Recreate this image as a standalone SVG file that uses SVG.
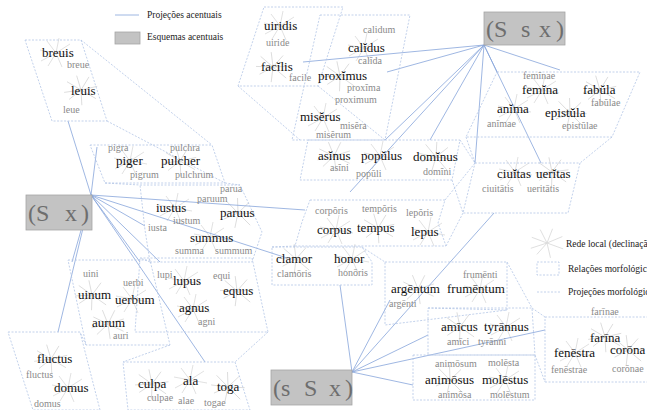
<svg xmlns="http://www.w3.org/2000/svg" xmlns:xlink="http://www.w3.org/1999/xlink" width="647" height="410" viewBox="0 0 647 410">
<style>
.b{font-family:"Liberation Serif",serif;font-size:13px;fill:#111}
.g{font-family:"Liberation Serif",serif;font-size:10px;fill:#8a8a8a}
.box{fill:none;stroke:#b3c5e6;stroke-width:.8;stroke-dasharray:2 1.5}
.rel{fill:none;stroke:#b3c5e6;stroke-width:.8;stroke-dasharray:2 1.5}
.proj{fill:none;stroke:#86a5da;stroke-width:.8}
.gbox{fill:#c3c3c3;stroke:#a5a5a5;stroke-width:.8}
.gt{font-family:"Liberation Serif",serif;font-size:24px;fill:#6e6e6e}
.leg{font-family:"Liberation Serif",serif;font-size:9.5px;fill:#222}
.st{stroke:#d9d9d9;stroke-width:.8;fill:none}
</style>
<defs>
<g id="star" class="st">
<path d="M0 0L-16 -3M0 0L-9 -12M0 0L3 -15M0 0L14 -9M0 0L17 3M0 0L6 14M0 0L-8 13M0 0L-15 8"/>
</g>
</defs>
<rect width="647" height="410" fill="#fff"/>

<g id="stars">
<use xlink:href="#star" x="56" y="53"/><use xlink:href="#star" x="81" y="90" transform="rotate(20 81 90)"/>
<use xlink:href="#star" x="280" y="26"/><use xlink:href="#star" x="273" y="67" transform="rotate(30 273 67)"/>
<use xlink:href="#star" x="364" y="48"/><use xlink:href="#star" x="340" y="76" transform="rotate(25 340 76)"/>
<use xlink:href="#star" x="323" y="118"/><use xlink:href="#star" x="334" y="156" transform="rotate(15 334 156)"/>
<use xlink:href="#star" x="380" y="156"/><use xlink:href="#star" x="436" y="157" transform="rotate(40 436 157)"/>
<use xlink:href="#star" x="542" y="90"/><use xlink:href="#star" x="600" y="90" transform="rotate(20 600 90)"/>
<use xlink:href="#star" x="514" y="109"/><use xlink:href="#star" x="570" y="113" transform="rotate(35 570 113)"/>
<use xlink:href="#star" x="515" y="172"/><use xlink:href="#star" x="552" y="172" transform="rotate(25 552 172)"/>
<use xlink:href="#star" x="336" y="230"/><use xlink:href="#star" x="378" y="228" transform="rotate(20 378 228)"/>
<use xlink:href="#star" x="428" y="232"/><use xlink:href="#star" x="296" y="259" transform="rotate(30 296 259)"/>
<use xlink:href="#star" x="352" y="259"/><use xlink:href="#star" x="418" y="289" transform="rotate(15 418 289)"/>
<use xlink:href="#star" x="480" y="289"/><use xlink:href="#star" x="460" y="327" transform="rotate(25 460 327)"/>
<use xlink:href="#star" x="506" y="327"/><use xlink:href="#star" x="450" y="380" transform="rotate(35 450 380)"/>
<use xlink:href="#star" x="505" y="380"/><use xlink:href="#star" x="605" y="337" transform="rotate(20 605 337)"/>
<use xlink:href="#star" x="575" y="353"/><use xlink:href="#star" x="628" y="350" transform="rotate(30 628 350)"/>
<use xlink:href="#star" x="130" y="161"/><use xlink:href="#star" x="180" y="161" transform="rotate(20 180 161)"/>
<use xlink:href="#star" x="175" y="208"/><use xlink:href="#star" x="238" y="213" transform="rotate(35 238 213)"/>
<use xlink:href="#star" x="210" y="237"/><use xlink:href="#star" x="92" y="295" transform="rotate(25 92 295)"/>
<use xlink:href="#star" x="132" y="299"/><use xlink:href="#star" x="108" y="324" transform="rotate(15 108 324)"/>
<use xlink:href="#star" x="184" y="281"/><use xlink:href="#star" x="237" y="291" transform="rotate(30 237 291)"/>
<use xlink:href="#star" x="193" y="309"/><use xlink:href="#star" x="51" y="359" transform="rotate(20 51 359)"/>
<use xlink:href="#star" x="68" y="388"/><use xlink:href="#star" x="152" y="384" transform="rotate(25 152 384)"/>
<use xlink:href="#star" x="190" y="380"/><use xlink:href="#star" x="228" y="387" transform="rotate(35 228 387)"/>
</g>

<g id="connectors">
<g class="rel">
<path d="M81 40L212 145M107 121L225 183"/>
<path d="M238 86L300 140M318 86L385 140"/>
<path d="M466 137L475 163M612 137L580 163M460 140L475 163M452 180L463 213"/>
<path d="M445 200L475 163M446 246L463 213"/>
<path d="M295 246L272 247M362 247L385 262"/>
<path d="M507 262L532 308M507 310L428 308"/>
<path d="M532 308L545 317M535 355L545 382"/>
<path d="M225 183L240 185M105 183L140 185"/>
<path d="M150 262L140 258M86 345L80 332M170 345L123 362M268 332L235 362"/>
</g>
<g class="proj">
<path d="M91 195L68 121M91 195L97 147M91 195L305 210M91 195L287 258M91 195L145 226M91 195L140 262M91 195L72 262M91 195L58 332M91 195L205 362M91 195L160 262"/>
<path d="M484 45L303 62M484 45L387 72M484 45L385 140M484 45L350 192M484 45L430 140M484 45L475 163M484 45L541 163M484 45L560 70M484 45L497 72"/>
<path d="M352 372L340 285M352 372L390 300M352 372L494 213M352 372L428 335M352 372L413 385M352 372L545 330"/>
</g>
</g>

<g id="box-breuis"><polygon class="box" points="25,40 81,40 107,121 52,121"/>
<text class="b" x="42" y="57">breuis</text><text class="g" x="67" y="68">breue</text><text class="b" x="71" y="95">leuis</text><text class="g" x="63" y="113">leue</text></g>

<g id="box-uiridis"><polygon class="box" points="264,7 343,7 318,86 238,86"/>
<text class="b" x="264" y="30">uiridis</text><text class="g" x="266" y="46">uiride</text><text class="b" x="261" y="71">facĭlis</text><text class="g" x="289" y="81">facile</text></g>

<g id="box-calidus"><polygon class="box" points="320,15 410,15 385,140 292,140"/>
<text class="g" x="363" y="33">calidum</text><text class="b" x="348" y="52">calĭdus</text><text class="g" x="358" y="64">calĭda</text>
<text class="b" x="318" y="80">proxĭmus</text><text class="g" x="347" y="91">proxĭma</text><text class="g" x="335" y="103">proximum</text>
<text class="b" x="300" y="121">misĕrus</text><text class="g" x="340" y="129">misĕra</text><text class="g" x="316" y="138">misĕrum</text></g>

<g id="box-asinus"><polygon class="box" points="308,140 460,140 452,180 300,180"/>
<text class="b" x="318" y="160">asĭnus</text><text class="g" x="330" y="171">asĭni</text><text class="b" x="361" y="160">popŭlus</text><text class="g" x="356" y="177">popŭli</text><text class="b" x="413" y="161">domĭnus</text><text class="g" x="423" y="175">domĭni</text></g>

<g id="box-femina"><polygon class="box" points="497,72 640,72 612,137 466,137"/>
<text class="g" x="523" y="79">femĭnae</text><text class="b" x="522" y="94">femĭna</text><text class="b" x="583" y="94">fabŭla</text><text class="g" x="591" y="106">fabŭlae</text>
<text class="b" x="497" y="113">anĭma</text><text class="g" x="487" y="127">anĭmae</text><text class="b" x="545" y="117">epistŭla</text><text class="g" x="562" y="129">epistŭlae</text></g>

<g id="box-ciuitas"><polygon class="box" points="475,163 580,163 568,213 463,213"/>
<text class="b" x="497" y="178">ciuĭtas</text><text class="b" x="536" y="178">uerĭtas</text><text class="g" x="482" y="192">ciuitātis</text><text class="g" x="527" y="192">ueritātis</text></g>

<g id="box-corpus"><polygon class="box" points="310,200 445,200 438,223 446,246 295,246 302,222"/>
<text class="g" x="315" y="214">corpŏris</text><text class="g" x="362" y="212">tempŏris</text><text class="g" x="406" y="216">lepŏris</text>
<text class="b" x="317" y="234">corpus</text><text class="b" x="357" y="232">tempus</text><text class="b" x="411" y="236">lepus</text></g>

<g id="box-clamor"><polygon class="box" points="272,247 362,247 372,262 372,285 272,285"/>
<text class="b" x="276" y="263">clamor</text><text class="b" x="334" y="263">honor</text><text class="g" x="277" y="277">clamōris</text><text class="g" x="338" y="276">honōris</text></g>

<g id="box-argentum"><polygon class="box" points="385,262 507,262 507,310 385,325"/>
<text class="g" x="463" y="278">frumēnti</text><text class="b" x="391" y="293">argēntum</text><text class="b" x="447" y="293">frumēntum</text><text class="g" x="389" y="307">argēnti</text></g>

<g id="box-amicus"><polygon class="box" points="428,308 532,308 535,355 428,355"/>
<text class="b" x="441" y="331">amīcus</text><text class="b" x="484" y="331">tyrānnus</text><text class="g" x="447" y="345">amīci</text><text class="g" x="478" y="345">tyrānni</text></g>

<g id="box-animosus"><polygon class="box" points="413,355 535,355 535,400 413,400"/>
<text class="g" x="435" y="367">animōsum</text><text class="g" x="488" y="366">molēsta</text><text class="b" x="425" y="384">animōsus</text><text class="b" x="482" y="384">molēstus</text><text class="g" x="438" y="398">animōsa</text><text class="g" x="490" y="398">molēstum</text></g>

<g id="box-farina"><polygon class="box" points="545,317 650,317 650,382 545,382"/>
<text class="g" x="591" y="315">farīnae</text><text class="b" x="590" y="342">farīna</text><text class="b" x="554" y="357">fenēstra</text><text class="b" x="610" y="354">corōna</text><text class="g" x="612" y="372">corōnae</text><text class="g" x="551" y="373">fenēstrae</text></g>

<g id="box-piger"><polygon class="box" points="90,145 212,145 225,183 105,183"/>
<text class="g" x="108" y="151">pigra</text><text class="b" x="116" y="165">piger</text><text class="g" x="130" y="178">pigrum</text><text class="g" x="170" y="151">pulchra</text><text class="b" x="161" y="165">pulcher</text><text class="g" x="175" y="178">pulchrum</text></g>

<g id="box-iustus"><polygon class="box" points="140,185 240,185 262,232 252,262 150,262 145,230"/>
<text class="g" x="220" y="192">parua</text><text class="g" x="197" y="202">paruum</text><text class="b" x="156" y="212">iustus</text><text class="b" x="220" y="217">paruus</text><text class="g" x="173" y="224">iustum</text><text class="g" x="148" y="231">iusta</text>
<text class="b" x="190" y="242">summus</text><text class="g" x="175" y="254">summa</text><text class="g" x="215" y="254">summum</text></g>

<g id="box-uinum"><polygon class="box" points="68,260 150,260 170,345 86,345"/>
<text class="g" x="83" y="277">uini</text><text class="g" x="123" y="286">uerbi</text><text class="b" x="78" y="299">uinum</text><text class="b" x="115" y="304">uerbum</text><text class="b" x="92" y="327">aurum</text><text class="g" x="113" y="339">auri</text></g>

<g id="box-lupus"><polygon class="box" points="140,258 252,258 268,332 135,332"/>
<text class="g" x="157" y="278">lupi</text><text class="b" x="173" y="285">lupus</text><text class="g" x="213" y="279">equi</text><text class="b" x="223" y="295">equus</text><text class="b" x="179" y="312">agnus</text><text class="g" x="198" y="325">agni</text></g>

<g id="box-fluctus"><polygon class="box" points="8,332 80,332 100,410 33,410"/>
<text class="b" x="37" y="363">fluctus</text><text class="g" x="26" y="378">fluctus</text><text class="b" x="54" y="392">domus</text><text class="g" x="34" y="407">domus</text></g>

<g id="box-culpa"><polygon class="box" points="123,362 235,362 250,410 128,410"/>
<text class="b" x="138" y="388">culpa</text><text class="g" x="147" y="401">culpae</text><text class="b" x="183" y="385">ala</text><text class="g" x="178" y="404">alae</text><text class="b" x="217" y="391">toga</text><text class="g" x="204" y="406">togae</text></g>

<g id="schema-Ssx"><rect class="gbox" x="484" y="12" width="81" height="33"/>
<text class="gt" y="37"><tspan x="486">(S</tspan><tspan x="521">s</tspan><tspan x="539">x</tspan><tspan x="556">)</tspan></text></g>
<g id="schema-Sx"><rect class="gbox" x="26" y="195" width="66" height="35"/>
<text class="gt" y="221"><tspan x="28">(S</tspan><tspan x="65">x</tspan><tspan x="81">)</tspan></text></g>
<g id="schema-sSx"><rect class="gbox" x="271" y="370" width="81" height="35"/>
<text class="gt" y="396"><tspan x="273">(s</tspan><tspan x="304">S</tspan><tspan x="329">x</tspan><tspan x="345">)</tspan></text></g>

<g id="legend">
<line class="proj" x1="115" y1="15" x2="139" y2="15"/><text class="leg" x="147" y="18">Projeções acentuais</text>
<rect class="gbox" x="115" y="32" width="25" height="12"/><text class="leg" x="147" y="40">Esquemas acentuais</text>
<use xlink:href="#star" x="547" y="243" transform="rotate(10 547 243)"/>
<text class="leg" x="566" y="247">Rede local (declinação)</text>
<rect class="box" x="537" y="262" width="22" height="13"/><text class="leg" x="568" y="272">Relações morfológicas</text>
<line class="rel" x1="537" y1="292" x2="560" y2="292"/><text class="leg" x="568" y="295">Projeções morfológicas</text>
</g>
</svg>
